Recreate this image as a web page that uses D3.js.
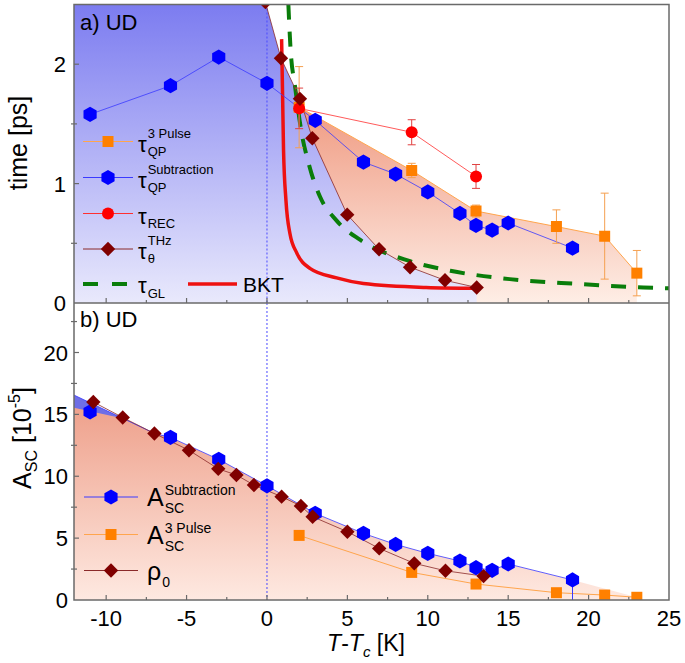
<!DOCTYPE html>
<html lang="en">
<head>
<meta charset="UTF-8">
<title>UD</title>
<script src="https://cdn.jsdelivr.net/npm/d3@7"></script>
<style>
  body { margin: 0; background: #fff; }
  text { font-family: "Liberation Sans", Arial, sans-serif; fill: #000; }
</style>
</head>
<body>
<svg width="685" height="663"></svg>
<script>
// ---- panel a : times ----
var tSub = [-11, -6, -3, 0, 3, 6, 8, 10, 12, 13, 14, 15, 19];
var tauSub = [1.58, 1.82, 2.06, 1.84, 1.53, 1.18, 1.08, 0.93, 0.75, 0.65, 0.61, 0.67, 0.46];
var t3p = [2, 9, 13, 18, 21, 23];
var tau3p = [1.64, 1.11, 0.77, 0.64, 0.56, 0.25];
var tau3pErr = [0.34, 0.06, 0.05, 0.14, 0.36, 0.19];
var tRec = [2, 9, 13];
var tauRec = [1.63, 1.43, 1.06];
var tauRecErr = [0.17, 0.105, 0.1];
var tTheta = [-0.1, 0.87, 2.05, 2.82, 4.99, 6.97, 8.9, 11.07, 13.04];
var tauTheta = [2.52, 2.05, 1.71, 1.38, 0.74, 0.45, 0.30, 0.19, 0.13];
var tGL = [1.33, 1.47, 1.74, 2.16, 2.57, 2.78, 3.3, 4.33, 5.78, 8.9, 11.4, 15.1, 19.3, 23.4, 25];
var tauGL = [2.5, 2.12, 1.82, 1.42, 1.18, 1.08, 0.89, 0.69, 0.53, 0.35, 0.27, 0.2, 0.16, 0.13, 0.123];
var tBKT = [0.91, 0.97, 1.03, 1.18, 1.43, 1.85, 2.67, 4.33, 6.0, 9.9, 13.0];
var tauBKT = [2.21, 1.75, 1.28, 0.86, 0.58, 0.42, 0.29, 0.21, 0.163, 0.13, 0.123];

// ---- panel b : amplitudes ----
var aSub = [15.2, 13.14, 11.36, 9.23, 7.0, 5.38, 4.49, 3.77, 3.15, 2.61, 2.40, 2.91, 1.62];
var a3p = [5.22, 2.23, 1.29, 0.59, 0.40, 0.22];
var tRho = [-10.8, -8.97, -7.0, -4.85, -3.03, -1.9, -0.81, 0.91, 2.11, 2.84, 5.0, 6.98, 9.16, 11.1, 13.47];
var rho = [16.0, 14.75, 13.46, 12.1, 10.6, 10.1, 9.29, 8.35, 7.6, 6.73, 5.52, 4.17, 2.96, 2.36, 1.93];
// shaded regions in b
var tFillBlueB = [-12, -7, -6];
var aFillBlueB = [16.56, 13.46, 13.14];
var tFillB = [-12, -9, -7, -6, -3, 0, 3, 6, 8, 10, 12, 13, 14, 15, 19, 23];
var aFillB = [15.53, 14.68, 13.46, 13.14, 11.36, 9.23, 7.0, 5.38, 4.49, 3.77, 3.15, 2.61, 2.40, 2.91, 1.62, 0.22];

var xTicks = [-10, -5, 0, 5, 10, 15, 20, 25];
var yTicksA = [0, 1, 2];
var yTicksB = [0, 5, 10, 15, 20];

var zip = (a, b) => a.map((v, i) => [v, b[i]]);

var svg = d3.select("svg");
var x = d3.scaleLinear().domain([-12, 25]).range([74, 669]);
var ya = d3.scaleLinear().domain([0, 2.5]).range([303, 4.5]);
var yb = d3.scaleLinear().domain([0, 24]).range([600, 303]);

var defs = svg.append("defs");
function grad(id, y1, y2, c1, c2) {
    var g = defs.append("linearGradient").attr("id", id).attr("gradientUnits", "userSpaceOnUse")
        .attr("x1", 0).attr("x2", 0).attr("y1", y1).attr("y2", y2);
    g.append("stop").attr("offset", 0).attr("stop-color", c1);
    g.append("stop").attr("offset", 1).attr("stop-color", c2);
}
grad("blueA", 4.5, 303, "#7c7cf0", "#e9e9fc");
grad("orangeA", 4.5, 303, "#e8704f", "#feeee6");
grad("orangeB", 303, 600, "#e67a5e", "#fee9e1");
defs.append("clipPath").attr("id", "clipA").append("rect").attr("x", 74).attr("y", 4.5).attr("width", 595).attr("height", 298.5);
defs.append("clipPath").attr("id", "clipB").append("rect").attr("x", 74).attr("y", 303).attr("width", 595).attr("height", 297);

// marker shapes
function hexPath(r) {
    var p = d3.path();
    for (var k = 0; k < 6; k++) {
        var a = -Math.PI / 2 + k * Math.PI / 3;
        k ? p.lineTo(r * Math.cos(a), r * Math.sin(a)) : p.moveTo(r * Math.cos(a), r * Math.sin(a));
    }
    p.closePath();
    return p.toString();
}
var shapes = {
    hex: hexPath(7.6),
    square: "M-5.5,-5.5H5.5V5.5H-5.5Z",
    circle: d3.symbol(d3.symbolCircle, Math.PI * 36)(),
    diamond: "M0,-7.2L7.2,0L0,7.2L-7.2,0Z"
};
var styles = {
    hex: { fill: "#0000ff", line: "#3a3aff" },
    square: { fill: "#ff8000", line: "#ffa54d" },
    circle: { fill: "#ff0000", line: "#ff3030" },
    diamond: { fill: "#800000", line: "#8a2a2a" }
};

function markers(g, pts, y, shape) {
    g.append("g").selectAll("path").data(pts).enter().append("path")
        .attr("d", shapes[shape])
        .attr("transform", d => `translate(${x(d[0])},${y(d[1])})`)
        .attr("fill", styles[shape].fill);
}
function polyline(g, pts, y, color, w) {
    g.append("path").attr("d", d3.line().x(d => x(d[0])).y(d => y(d[1]))(pts))
        .attr("fill", "none").attr("stroke", color).attr("stroke-width", w);
}
function errbars(g, pts, errs, y, color) {
    pts.forEach(function (d, i) {
        var e = errs[i];
        if (!e) return;
        var cx = x(d[0]), y1 = y(d[1] - e), y2 = y(d[1] + e);
        g.append("line").attr("x1", cx).attr("x2", cx).attr("y1", y1).attr("y2", y2).attr("stroke", color).attr("stroke-width", 1);
        [y1, y2].forEach(yy => g.append("line").attr("x1", cx - 4).attr("x2", cx + 4).attr("y1", yy).attr("y2", yy)
            .attr("stroke", color).attr("stroke-width", 1));
    });
}
function area(pts, y) {
    return d3.area().x(d => x(d[0])).y0(y(0)).y1(d => y(d[1]))(pts);
}

// ================= panel a =================
var ga = svg.append("g").attr("clip-path", "url(#clipA)");
ga.append("path").attr("d", area(zip(t3p, tau3p), ya)).attr("fill", "url(#orangeA)");
ga.append("path").attr("d", area([[-12, 2.6]].concat(zip(tTheta, tauTheta)), ya)).attr("fill", "url(#blueA)");
ga.append("line").attr("x1", x(0)).attr("x2", x(0)).attr("y1", ya(2.5)).attr("y2", ya(0))
    .attr("stroke", "#4a4aff").attr("stroke-width", 1).attr("stroke-dasharray", "2,2");

ga.append("path").attr("d", d3.line().curve(d3.curveMonotoneX).x(d => x(d[0])).y(d => ya(d[1]))(zip(tBKT, tauBKT)))
    .attr("fill", "none").attr("stroke", "#ee1111").attr("stroke-width", 3.5);
ga.append("path").attr("d", d3.line().curve(d3.curveMonotoneX).x(d => x(d[0])).y(d => ya(d[1]))(zip(tGL, tauGL)))
    .attr("fill", "none").attr("stroke", "#0a7d0a").attr("stroke-width", 4).attr("stroke-dasharray", "15,12");

polyline(ga, zip(t3p, tau3p), ya, styles.square.line, 1);
polyline(ga, zip(tSub, tauSub), ya, styles.hex.line, 0.8);
polyline(ga, zip(tRec, tauRec), ya, styles.circle.line, 0.8);
polyline(ga, zip(tTheta, tauTheta), ya, styles.diamond.line, 0.8);
errbars(ga, zip(t3p, tau3p), tau3pErr, ya, "#f5a050");
errbars(ga, zip(tRec, tauRec), tauRecErr, ya, "#e04040");
markers(ga, zip(t3p, tau3p), ya, "square");
markers(ga, zip(tSub, tauSub), ya, "hex");
markers(ga, zip(tRec, tauRec), ya, "circle");
markers(ga, zip(tTheta, tauTheta), ya, "diamond");

// ================= panel b =================
var gb = svg.append("g").attr("clip-path", "url(#clipB)");
gb.append("path").attr("d", area(zip(tFillBlueB, aFillBlueB), yb)).attr("fill", "#6e6ee6");
gb.append("path").attr("d", area(zip(tFillB, aFillB), yb)).attr("fill", "url(#orangeB)");
gb.append("line").attr("x1", x(0)).attr("x2", x(0)).attr("y1", yb(24)).attr("y2", yb(0))
    .attr("stroke", "#4a4aff").attr("stroke-width", 1).attr("stroke-dasharray", "2,2");
polyline(gb, zip(tFillBlueB, aFillBlueB).slice(0, 2).concat(zip(tSub, aSub).slice(1)), yb, styles.hex.line, 0.8);
polyline(gb, zip(t3p, a3p), yb, styles.square.line, 1);
polyline(gb, zip(tRho, rho), yb, styles.diamond.line, 0.8);
// drop line under the last subtraction point
var last = tSub.length - 1;
gb.append("line").attr("x1", x(tSub[last])).attr("x2", x(tSub[last])).attr("y1", yb(aSub[last])).attr("y2", yb(0))
    .attr("stroke", "#3a3aff").attr("stroke-width", 1);
markers(gb, zip(tSub, aSub), yb, "hex");
markers(gb, zip(t3p, a3p), yb, "square");
markers(gb, zip(tRho, rho), yb, "diamond");

// ================= axes / ticks =================
var axc = "#6a6a6a";
function tickLine(x1, y1, x2, y2) {
    svg.append("line").attr("x1", x1).attr("y1", y1).attr("x2", x2).attr("y2", y2).attr("stroke", axc).attr("stroke-width", 1.2);
}
[303, 600].forEach(function (y0) {
    xTicks.forEach(v => { if (v < 25) tickLine(x(v), y0, x(v), y0 - 5); });
    xTicks.forEach(v => { if (v + 2.5 < 25) tickLine(x(v + 2.5), y0, x(v + 2.5), y0 - 3); });
});
xTicks.forEach(v => svg.append("text").attr("x", x(v)).attr("y", 626).attr("text-anchor", "middle")
    .style("font-size", "22px").text(v));
yTicksA.forEach(v => {
    if (v > 0) tickLine(74, ya(v), 79, ya(v));
    if (v + 0.5 < 2.5) tickLine(71, ya(v + 0.5), 77, ya(v + 0.5));
    svg.append("text").attr("x", 66).attr("y", ya(v) + 8).attr("text-anchor", "end").style("font-size", "22px").text(v);
});
yTicksB.forEach(v => {
    if (v > 0) tickLine(74, yb(v), 79, yb(v));
    tickLine(71, yb(v + 2.5), 77, yb(v + 2.5));
    svg.append("text").attr("x", 68).attr("y", yb(v) + 8).attr("text-anchor", "end").style("font-size", "22px").text(v);
});
svg.append("rect").attr("x", 74).attr("y", 4.5).attr("width", 595).attr("height", 595.5)
    .attr("fill", "none").attr("stroke", axc).attr("stroke-width", 1.5);
svg.append("line").attr("x1", 74).attr("x2", 669).attr("y1", 303).attr("y2", 303).attr("stroke", axc).attr("stroke-width", 1.5);

// panel tags
svg.append("text").attr("x", 80).attr("y", 30).style("font-size", "22px").text("a) UD");
svg.append("text").attr("x", 80).attr("y", 327).style("font-size", "22px").text("b) UD");

// axis titles
var xt = svg.append("text").attr("x", 366).attr("y", 651).attr("text-anchor", "middle").style("font-size", "23px");
xt.append("tspan").style("font-style", "italic").text("T");
xt.append("tspan").text("-");
xt.append("tspan").style("font-style", "italic").text("T");
xt.append("tspan").style("font-style", "italic").style("font-size", "15px").attr("dy", 6).text("c");
xt.append("tspan").attr("dy", -6).text(" [K]");

svg.append("text").attr("transform", "translate(27,143) rotate(-90)").attr("text-anchor", "middle")
    .style("font-size", "25px").text("time [ps]");
var yt = svg.append("text").attr("transform", "translate(31,438) rotate(-90)").attr("text-anchor", "middle").style("font-size", "25px");
yt.append("tspan").text("A");
yt.append("tspan").style("font-size", "16px").attr("dy", 6).text("SC");
yt.append("tspan").attr("dy", -6).text(" [10");
yt.append("tspan").style("font-size", "16px").attr("dy", -11).text("-5");
yt.append("tspan").attr("dy", 11).text("]");

// ================= legends =================
function rich(x0, y0, main, size, sup, supDy, sub, subDy, small) {
    var t = svg.append("text").attr("x", x0).attr("y", y0).style("font-size", size + "px").text(main);
    var w = t.node().getComputedTextLength();
    if (sup) svg.append("text").attr("x", x0 + w + 1).attr("y", y0 + supDy).style("font-size", small + "px").text(sup);
    if (sub) svg.append("text").attr("x", x0 + w + 1).attr("y", y0 + subDy).style("font-size", small + "px").text(sub);
}
function legendSample(xl, xr, y, shape) {
    svg.append("line").attr("x1", xl).attr("x2", xr).attr("y1", y).attr("y2", y)
        .attr("stroke", styles[shape].line).attr("stroke-width", 1);
    svg.append("path").attr("d", shapes[shape]).attr("transform", `translate(${(xl + xr) / 2},${y})`)
        .attr("fill", styles[shape].fill);
}
var legA = [
    { shape: "square", y: 141.5, sup: "3 Pulse", sub: "QP" },
    { shape: "hex", y: 177.5, sup: "Subtraction", sub: "QP" },
    { shape: "circle", y: 213.5, sup: null, sub: "REC" },
    { shape: "diamond", y: 249, sup: "THz", sub: "\u03b8" }
];
legA.forEach(function (d) {
    legendSample(83, 133, d.y, d.shape);
    rich(138, d.y + 10, "\u03c4", 22, d.sup, -14, d.sub, 4, 13);
});
svg.append("line").attr("x1", 83).attr("x2", 127).attr("y1", 284).attr("y2", 284)
    .attr("stroke", "#0a7d0a").attr("stroke-width", 4).attr("stroke-dasharray", "15,14");
rich(138, 293, "\u03c4", 22, null, 0, "GL", 5, 13);
svg.append("line").attr("x1", 188).attr("x2", 237).attr("y1", 284).attr("y2", 284)
    .attr("stroke", "#ee1111").attr("stroke-width", 3.5);
svg.append("text").attr("x", 243).attr("y", 292).style("font-size", "21px").text("BKT");

var legB = [
    { shape: "hex", y: 497, main: "A", sup: "Subtraction", sub: "SC" },
    { shape: "square", y: 534.5, main: "A", sup: "3 Pulse", sub: "SC" },
    { shape: "diamond", y: 570.5, main: "\u03c1", sup: null, sub: "0" }
];
legB.forEach(function (d) {
    legendSample(84, 138, d.y, d.shape);
    rich(147, d.y + 9, d.main, 25, d.sup, -11, d.sub, 7, 14);
});
</script>
</body>
</html>
